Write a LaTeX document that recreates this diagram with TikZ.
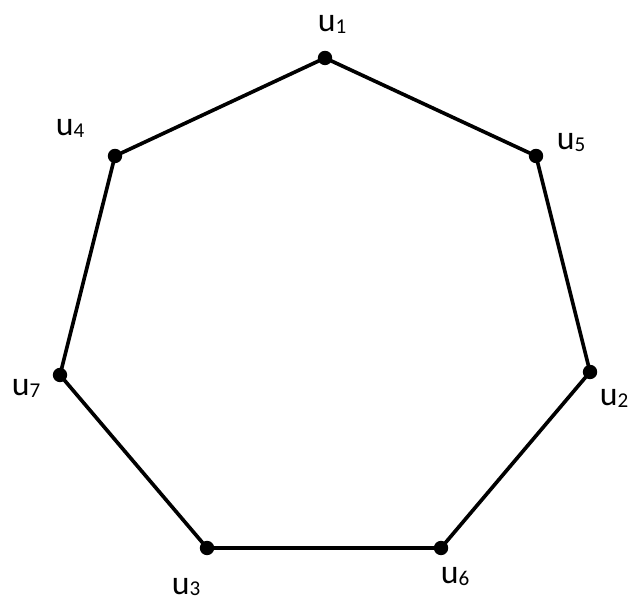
\documentclass[tikz,border=0pt]{standalone}
\usepackage{fontspec}
\setmainfont{Carlito}
\usetikzlibrary{positioning}

\newcommand{\vlab}[1]{u\raisebox{-0.1ex}{\fontsize{15}{16}\selectfont #1}}

\begin{document}
\begin{tikzpicture}[vert/.style={circle, fill=black, inner sep=0pt, minimum size=0.36cm},
  lab/.style={anchor=base, inner sep=0pt, font=\fontsize{24}{28}\selectfont},
  edge/.style={line width=2.6pt}]
  \useasboundingbox (0,0) rectangle (15.975,15.05);

  % vertices of the cycle
  \node[vert] (u1) at (8.125, 13.6) {};
  \node[vert] (u5) at (13.4, 11.15) {};
  \node[vert] (u2) at (14.75, 5.75) {};
  \node[vert] (u6) at (11.025, 1.35) {};
  \node[vert] (u3) at (5.175, 1.35) {};
  \node[vert] (u7) at (1.5, 5.675) {};
  \node[vert] (u4) at (2.875, 11.15) {};

  % labels
  \node[lab] (l1) at (8.3, 14.25) {\vlab{1}};
  \node[lab] (l4) at (1.75, 11.65) {\vlab{4}};
  \node[lab] (l5) at (14.275, 11.3) {\vlab{5}};
  \node[lab] (l7) at (0.65, 5.15) {\vlab{7}};
  \node[lab] (l2) at (15.35, 4.9) {\vlab{2}};
  \node[lab] (l6) at (11.375, 0.45) {\vlab{6}};
  \node[lab] (l3) at (4.65, 0.2) {\vlab{3}};

  % edges
  \draw[edge] (u1.center) -- (u5.center);
  \draw[edge] (u5.center) -- (u2.center);
  \draw[edge] (u2.center) -- (u6.center);
  \draw[edge] (u6.center) -- (u3.center);
  \draw[edge] (u3.center) -- (u7.center);
  \draw[edge] (u7.center) -- (u4.center);
  \draw[edge] (u4.center) -- (u1.center);
\end{tikzpicture}
\end{document}
